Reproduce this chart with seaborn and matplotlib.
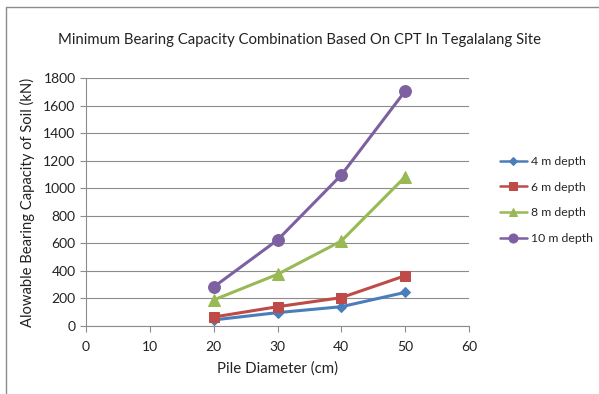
import matplotlib
matplotlib.use("Agg")
import matplotlib.pyplot as plt
from matplotlib.lines import Line2D
import seaborn as sns
import pandas as pd

# Pile diameters (cm) and allowable bearing capacity (kN) per CPT depth
diameters = [20, 30, 40, 50]
depth_4m = [44, 97, 140, 244]
depth_6m = [65, 140, 206, 365]
depth_8m = [189, 375, 617, 1083]
depth_10m = [283, 624, 1096, 1705]
series_names = ["4 m depth", "6 m depth", "8 m depth", "10 m depth"]
x_ticks = [0, 10, 20, 30, 40, 50, 60]
y_ticks = [0, 200, 400, 600, 800, 1000, 1200, 1400, 1600, 1800]

rows = []
for name, vals in zip(series_names, [depth_4m, depth_6m, depth_8m, depth_10m]):
    for d, v in zip(diameters, vals):
        rows.append({"Diameter": d, "Capacity": v, "Series": name})
df = pd.DataFrame(rows)

sns.set_theme(style="white")
plt.rcParams["font.family"] = ["Lato", "DejaVu Sans"]

colors = {"4 m depth": "#4A7EBB", "6 m depth": "#BE4B48",
          "8 m depth": "#98B954", "10 m depth": "#7D60A0"}
markers = {"4 m depth": "D", "6 m depth": "s", "8 m depth": "^", "10 m depth": "o"}
msizes = {"4 m depth": 5.5, "6 m depth": 7.5, "8 m depth": 8, "10 m depth": 8.5}
leg_sizes = {"4 m depth": 4.5, "6 m depth": 6, "8 m depth": 6, "10 m depth": 6.5}

fig = plt.figure(figsize=(5.99, 3.94), dpi=100)
# chart frame edges (top and left)
fig.add_artist(Line2D([6 / 599, 1.0], [1 - 7 / 394, 1 - 7 / 394],
                      transform=fig.transFigure, color="#8c8c8c", linewidth=1.0))
fig.add_artist(Line2D([6 / 599, 6 / 599], [0.0, 1 - 7 / 394],
                      transform=fig.transFigure, color="#8c8c8c", linewidth=1.0))

ax = fig.add_axes([86 / 599, 1 - 326 / 394, 383 / 599, 248 / 394])

for name in series_names:
    sub = df[df["Series"] == name]
    sns.lineplot(data=sub, x="Diameter", y="Capacity", ax=ax, color=colors[name],
                 marker=markers[name], markersize=msizes[name], linewidth=2.2,
                 markeredgecolor=colors[name], label=name)

ax.set_xlim(0, 60)
ax.set_ylim(0, 1800)
ax.set_xticks(x_ticks)
ax.set_yticks(y_ticks)
ax.yaxis.grid(True, color="#8c8c8c", linewidth=0.8)
ax.xaxis.grid(False)
for s in ["top", "right"]:
    ax.spines[s].set_visible(False)
for s in ["left", "bottom"]:
    ax.spines[s].set_color("#8c8c8c")
    ax.spines[s].set_linewidth(0.8)
ax.tick_params(axis="both", direction="out", length=4, width=0.8, color="#8c8c8c",
               labelsize=10, labelcolor="#222222", bottom=True, left=True)
ax.tick_params(axis="x", pad=7)
ax.set_xlabel("Pile Diameter (cm)", fontsize=10.8, color="#222222", labelpad=6)
ax.set_ylabel("Alowable Bearing Capacity of Soil (kN)", fontsize=10.6,
              color="#222222", labelpad=6)

fig.text(299 / 599, 1 - 40 / 394,
         "Minimum Bearing Capacity Combination Based On CPT In Tegalalang Site",
         ha="center", va="center", fontsize=10.7, color="#222222")

leg = ax.legend(loc="center left", bbox_to_anchor=(489 / 599, 1 - 200 / 394),
                bbox_transform=fig.transFigure, frameon=False,
                fontsize=8.8, handlelength=2.2, labelspacing=1.2, handletextpad=0.3)
for h, name in zip(leg.legend_handles, series_names):
    h.set_markersize(leg_sizes[name])
    h.set_linewidth(1.8)

fig.savefig("out.png", dpi=100)
